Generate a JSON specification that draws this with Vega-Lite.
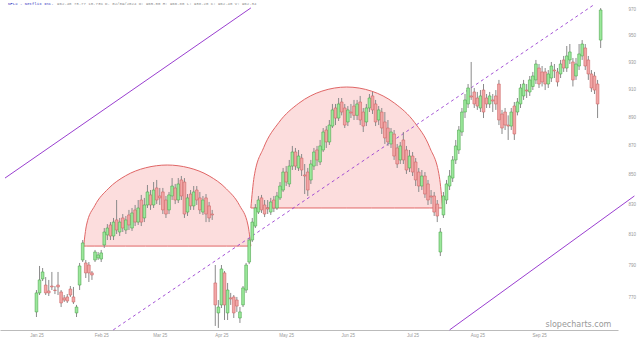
{
  "$schema": "https://vega.github.io/schema/vega-lite/v6.json",
  "width": 618,
  "height": 330,
  "autosize": {"type": "none"},
  "padding": {"left": 0, "top": 0, "right": 22, "bottom": 11},
  "background": "white",
  "config": {
    "view": {"stroke": null},
    "font": "Liberation Sans",
    "axisX": {"labelFontSize": 4.5, "labelColor": "#999", "ticks": false, "grid": false, "domainColor": "#bbb", "labelPadding": 2, "title": null},
    "axisY": {"labelFontSize": 4.5, "labelColor": "#999", "ticks": false, "grid": false, "domain": false, "labelPadding": 10, "title": null}
  },
  "datasets": {
    "candles": [
      {"i":0,"o":761.4,"h":774.9,"l":758.3,"c":773.1},
      {"i":1,"o":773.1,"h":790.0,"l":771.8,"c":781.2},
      {"i":2,"o":781.8,"h":788.7,"l":780.5,"c":786.2},
      {"i":3,"o":778.0,"h":783.0,"l":771.8,"c":773.1},
      {"i":4,"o":774.3,"h":781.2,"l":771.2,"c":773.1},
      {"i":5,"o":777.4,"h":786.2,"l":774.9,"c":776.8},
      {"i":6,"o":774.9,"h":777.4,"l":772.4,"c":774.6},
      {"i":7,"o":778.0,"h":786.2,"l":771.8,"c":776.8},
      {"i":8,"o":773.7,"h":774.9,"l":764.4,"c":766.9},
      {"i":9,"o":770.0,"h":771.8,"l":767.5,"c":768.7},
      {"i":10,"o":770.6,"h":772.4,"l":766.9,"c":768.1},
      {"i":11,"o":775.5,"h":777.4,"l":770.6,"c":771.8},
      {"i":12,"o":770.6,"h":776.8,"l":766.3,"c":767.5},
      {"i":13,"o":760.8,"h":765.7,"l":758.3,"c":764.4},
      {"i":14,"o":778.0,"h":791.9,"l":774.9,"c":790.0},
      {"i":15,"o":793.8,"h":806.6,"l":792.5,"c":804.7},
      {"i":16,"o":791.9,"h":793.8,"l":782.4,"c":785.6},
      {"i":17,"o":790.6,"h":792.5,"l":779.9,"c":785.6},
      {"i":18,"o":785.6,"h":786.8,"l":781.2,"c":784.3},
      {"i":19,"o":793.8,"h":800.2,"l":792.5,"c":798.9},
      {"i":20,"o":795.1,"h":798.9,"l":793.8,"c":797.0},
      {"i":21,"o":794.4,"h":800.2,"l":792.5,"c":798.3},
      {"i":22,"o":803.4,"h":814.4,"l":801.5,"c":811.8},
      {"i":23,"o":809.9,"h":817.0,"l":806.6,"c":814.4},
      {"i":24,"o":816.4,"h":818.3,"l":806.6,"c":809.2},
      {"i":25,"o":809.2,"h":821.0,"l":806.6,"c":818.3},
      {"i":26,"o":819.7,"h":832.9,"l":810.5,"c":813.1},
      {"i":27,"o":811.8,"h":821.0,"l":809.2,"c":818.3},
      {"i":28,"o":821.0,"h":823.6,"l":811.8,"c":814.4},
      {"i":29,"o":813.1,"h":822.3,"l":810.5,"c":819.7},
      {"i":30,"o":823.0,"h":826.3,"l":813.1,"c":816.4},
      {"i":31,"o":814.4,"h":827.6,"l":812.5,"c":824.3},
      {"i":32,"o":826.3,"h":829.6,"l":815.7,"c":818.3},
      {"i":33,"o":818.3,"h":832.9,"l":816.4,"c":827.6},
      {"i":34,"o":832.9,"h":836.3,"l":815.7,"c":818.3},
      {"i":35,"o":821.0,"h":834.3,"l":818.3,"c":829.6},
      {"i":36,"o":829.6,"h":843.0,"l":827.6,"c":838.3},
      {"i":37,"o":836.3,"h":839.6,"l":826.3,"c":829.6},
      {"i":38,"o":829.6,"h":845.0,"l":827.6,"c":839.6},
      {"i":39,"o":841.0,"h":846.4,"l":830.2,"c":832.9},
      {"i":40,"o":835.6,"h":841.0,"l":829.6,"c":834.3},
      {"i":41,"o":838.3,"h":841.0,"l":823.6,"c":826.3},
      {"i":42,"o":832.9,"h":835.6,"l":821.0,"c":823.6},
      {"i":43,"o":826.3,"h":838.3,"l":823.6,"c":836.3},
      {"i":44,"o":835.6,"h":847.7,"l":832.9,"c":842.3},
      {"i":45,"o":841.0,"h":843.7,"l":830.2,"c":832.9},
      {"i":46,"o":832.9,"h":847.7,"l":830.9,"c":843.7},
      {"i":47,"o":846.4,"h":849.1,"l":832.9,"c":835.6},
      {"i":48,"o":845.0,"h":847.7,"l":821.0,"c":823.6},
      {"i":49,"o":824.9,"h":836.9,"l":822.3,"c":834.3},
      {"i":50,"o":836.9,"h":839.6,"l":826.3,"c":829.0},
      {"i":51,"o":829.0,"h":842.3,"l":826.3,"c":838.3},
      {"i":52,"o":839.6,"h":842.3,"l":829.6,"c":832.9},
      {"i":53,"o":834.3,"h":838.3,"l":823.6,"c":826.3},
      {"i":54,"o":824.9,"h":835.6,"l":823.0,"c":832.9},
      {"i":55,"o":834.3,"h":836.9,"l":818.3,"c":823.6},
      {"i":56,"o":829.0,"h":831.6,"l":818.3,"c":821.0},
      {"i":57,"o":823.6,"h":826.3,"l":819.7,"c":823.0},
      {"i":58,"o":779.3,"h":790.6,"l":752.9,"c":765.7},
      {"i":59,"o":760.8,"h":768.7,"l":751.7,"c":764.4},
      {"i":60,"o":765.7,"h":790.6,"l":763.8,"c":788.1},
      {"i":61,"o":785.6,"h":786.8,"l":756.5,"c":765.7},
      {"i":62,"o":760.8,"h":779.3,"l":756.5,"c":774.9},
      {"i":63,"o":770.0,"h":773.1,"l":765.7,"c":769.4},
      {"i":64,"o":770.6,"h":771.8,"l":757.7,"c":760.8},
      {"i":65,"o":768.7,"h":770.6,"l":761.4,"c":765.0},
      {"i":66,"o":757.7,"h":764.4,"l":754.7,"c":761.4},
      {"i":67,"o":765.7,"h":777.4,"l":764.4,"c":776.2},
      {"i":68,"o":774.9,"h":791.9,"l":773.1,"c":790.6},
      {"i":69,"o":792.5,"h":807.9,"l":791.2,"c":806.6},
      {"i":70,"o":806.6,"h":821.0,"l":805.3,"c":818.3},
      {"i":71,"o":815.7,"h":830.2,"l":814.4,"c":827.6},
      {"i":72,"o":824.9,"h":835.6,"l":823.6,"c":832.9},
      {"i":73,"o":834.3,"h":836.3,"l":824.3,"c":826.3},
      {"i":74,"o":829.6,"h":832.9,"l":821.6,"c":823.6},
      {"i":75,"o":827.6,"h":832.9,"l":823.6,"c":826.9},
      {"i":76,"o":824.9,"h":834.3,"l":823.0,"c":831.6},
      {"i":77,"o":832.9,"h":835.6,"l":824.9,"c":827.6},
      {"i":78,"o":827.6,"h":838.3,"l":826.3,"c":835.6},
      {"i":79,"o":834.3,"h":845.0,"l":832.9,"c":842.3},
      {"i":80,"o":839.6,"h":854.6,"l":838.3,"c":851.8},
      {"i":81,"o":851.8,"h":855.9,"l":842.3,"c":845.0},
      {"i":82,"o":843.7,"h":860.1,"l":841.6,"c":855.9},
      {"i":83,"o":855.9,"h":869.8,"l":853.2,"c":865.6},
      {"i":84,"o":865.6,"h":868.4,"l":853.2,"c":855.9},
      {"i":85,"o":854.6,"h":867.0,"l":852.5,"c":862.8},
      {"i":86,"o":861.4,"h":864.2,"l":849.1,"c":853.2},
      {"i":87,"o":849.8,"h":857.3,"l":836.9,"c":849.1},
      {"i":88,"o":851.8,"h":854.6,"l":835.6,"c":839.6},
      {"i":89,"o":846.4,"h":860.1,"l":843.7,"c":857.3},
      {"i":90,"o":855.9,"h":868.4,"l":853.2,"c":865.6},
      {"i":91,"o":867.0,"h":869.8,"l":855.9,"c":860.1},
      {"i":92,"o":858.7,"h":874.0,"l":856.6,"c":869.8},
      {"i":93,"o":867.0,"h":882.4,"l":865.6,"c":879.6},
      {"i":94,"o":881.0,"h":883.8,"l":868.4,"c":872.6},
      {"i":95,"o":872.6,"h":888.1,"l":870.5,"c":884.5},
      {"i":96,"o":883.8,"h":899.6,"l":882.4,"c":895.3},
      {"i":97,"o":896.7,"h":899.6,"l":884.5,"c":889.5},
      {"i":98,"o":889.5,"h":903.9,"l":887.4,"c":899.6},
      {"i":99,"o":901.0,"h":903.9,"l":891.4,"c":893.8},
      {"i":100,"o":896.7,"h":899.6,"l":882.4,"c":884.5},
      {"i":101,"o":886.7,"h":898.1,"l":883.8,"c":895.3},
      {"i":102,"o":893.8,"h":899.6,"l":889.5,"c":893.1},
      {"i":103,"o":898.1,"h":902.5,"l":888.1,"c":891.4},
      {"i":104,"o":891.4,"h":902.5,"l":888.1,"c":899.6},
      {"i":105,"o":901.0,"h":905.4,"l":884.5,"c":888.1},
      {"i":106,"o":893.8,"h":896.7,"l":879.6,"c":883.8},
      {"i":107,"o":886.7,"h":899.6,"l":883.8,"c":896.7},
      {"i":108,"o":896.7,"h":906.8,"l":893.8,"c":903.9},
      {"i":109,"o":905.4,"h":908.3,"l":892.4,"c":895.3},
      {"i":110,"o":899.6,"h":902.5,"l":883.8,"c":886.7},
      {"i":111,"o":888.1,"h":898.1,"l":884.5,"c":895.3},
      {"i":112,"o":893.8,"h":896.7,"l":878.2,"c":882.4},
      {"i":113,"o":886.7,"h":893.8,"l":871.2,"c":875.4},
      {"i":114,"o":882.4,"h":888.1,"l":869.8,"c":872.6},
      {"i":115,"o":871.2,"h":882.4,"l":868.4,"c":879.6},
      {"i":116,"o":878.2,"h":881.0,"l":860.1,"c":862.8},
      {"i":117,"o":868.4,"h":871.2,"l":854.6,"c":857.3},
      {"i":118,"o":860.1,"h":872.6,"l":857.3,"c":869.8},
      {"i":119,"o":874.0,"h":879.6,"l":857.3,"c":860.1},
      {"i":120,"o":867.0,"h":869.8,"l":850.5,"c":853.2},
      {"i":121,"o":854.6,"h":867.0,"l":851.8,"c":862.8},
      {"i":122,"o":862.8,"h":865.6,"l":849.1,"c":851.8},
      {"i":123,"o":858.7,"h":861.4,"l":842.3,"c":846.4},
      {"i":124,"o":851.8,"h":854.6,"l":838.3,"c":842.3},
      {"i":125,"o":842.3,"h":853.2,"l":839.6,"c":849.1},
      {"i":126,"o":849.1,"h":851.8,"l":834.3,"c":836.9},
      {"i":127,"o":843.7,"h":846.4,"l":829.6,"c":832.9},
      {"i":128,"o":835.6,"h":839.6,"l":830.2,"c":834.9},
      {"i":129,"o":835.6,"h":838.3,"l":822.3,"c":824.9},
      {"i":130,"o":830.2,"h":832.9,"l":818.3,"c":822.3},
      {"i":131,"o":798.9,"h":814.4,"l":796.3,"c":811.8},
      {"i":132,"o":823.0,"h":838.3,"l":821.0,"c":835.6},
      {"i":133,"o":832.9,"h":846.4,"l":830.2,"c":843.7},
      {"i":134,"o":842.3,"h":853.2,"l":839.6,"c":849.1},
      {"i":135,"o":847.7,"h":862.8,"l":845.0,"c":860.1},
      {"i":136,"o":860.1,"h":874.0,"l":857.3,"c":869.8},
      {"i":137,"o":867.0,"h":883.8,"l":864.2,"c":881.0},
      {"i":138,"o":879.6,"h":896.7,"l":876.8,"c":893.8},
      {"i":139,"o":893.8,"h":906.8,"l":889.5,"c":902.5},
      {"i":140,"o":899.6,"h":914.1,"l":896.7,"c":911.2},
      {"i":141,"o":905.4,"h":930.4,"l":902.5,"c":904.6},
      {"i":142,"o":908.3,"h":911.2,"l":896.7,"c":899.6},
      {"i":143,"o":903.9,"h":908.3,"l":895.3,"c":898.1},
      {"i":144,"o":896.7,"h":909.7,"l":893.8,"c":905.4},
      {"i":145,"o":909.7,"h":914.1,"l":889.5,"c":893.8},
      {"i":146,"o":903.9,"h":906.8,"l":896.7,"c":899.6},
      {"i":147,"o":899.6,"h":908.3,"l":896.7,"c":905.4},
      {"i":148,"o":902.5,"h":906.8,"l":893.8,"c":901.7},
      {"i":149,"o":905.4,"h":909.7,"l":895.3,"c":899.6},
      {"i":150,"o":914.1,"h":917.1,"l":884.5,"c":888.1},
      {"i":151,"o":892.4,"h":895.3,"l":878.2,"c":882.4},
      {"i":152,"o":893.8,"h":896.7,"l":881.0,"c":884.5},
      {"i":153,"o":884.5,"h":891.4,"l":874.0,"c":883.8},
      {"i":154,"o":883.8,"h":896.7,"l":881.0,"c":893.8},
      {"i":155,"o":898.1,"h":901.0,"l":874.0,"c":878.2},
      {"i":156,"o":893.8,"h":903.9,"l":891.4,"c":901.0},
      {"i":157,"o":899.6,"h":914.1,"l":896.7,"c":911.2},
      {"i":158,"o":905.4,"h":917.1,"l":902.5,"c":914.1},
      {"i":159,"o":909.7,"h":914.1,"l":903.9,"c":909.0},
      {"i":160,"o":908.3,"h":920.0,"l":905.4,"c":917.1},
      {"i":161,"o":912.3,"h":923.0,"l":909.7,"c":920.0},
      {"i":162,"o":917.1,"h":931.9,"l":914.1,"c":928.9},
      {"i":163,"o":925.9,"h":928.9,"l":911.2,"c":914.1},
      {"i":164,"o":923.0,"h":927.4,"l":912.3,"c":915.6},
      {"i":165,"o":923.0,"h":925.9,"l":909.7,"c":914.1},
      {"i":166,"o":914.1,"h":924.4,"l":911.2,"c":921.5},
      {"i":167,"o":918.5,"h":930.4,"l":915.6,"c":927.4},
      {"i":168,"o":924.4,"h":928.9,"l":918.5,"c":923.7},
      {"i":169,"o":923.0,"h":925.9,"l":912.3,"c":915.6},
      {"i":170,"o":921.5,"h":931.9,"l":918.5,"c":928.9},
      {"i":171,"o":931.9,"h":934.9,"l":923.0,"c":925.9},
      {"i":172,"o":925.9,"h":942.4,"l":923.0,"c":934.9},
      {"i":173,"o":931.9,"h":943.9,"l":928.9,"c":937.9},
      {"i":174,"o":930.4,"h":933.4,"l":912.3,"c":917.1},
      {"i":175,"o":920.0,"h":933.4,"l":917.1,"c":928.9},
      {"i":176,"o":927.4,"h":943.9,"l":924.4,"c":936.4},
      {"i":177,"o":934.9,"h":946.9,"l":931.9,"c":943.9},
      {"i":178,"o":940.9,"h":943.9,"l":924.4,"c":927.4},
      {"i":179,"o":931.9,"h":934.9,"l":917.1,"c":921.5},
      {"i":180,"o":921.5,"h":924.4,"l":908.3,"c":911.2},
      {"i":181,"o":920.0,"h":923.0,"l":906.8,"c":909.7},
      {"i":182,"o":914.1,"h":917.1,"l":889.5,"c":899.6},
      {"i":183,"o":946.9,"h":971.5,"l":940.9,"c":970.0}
    ],
    "domes": [
      {"dome":"A","i":15.31,"p":802.7,"base":802.7},
      {"dome":"A","i":16.23,"p":816.3,"base":802.7},
      {"dome":"A","i":18.94,"p":829.2,"base":802.7},
      {"dome":"A","i":23.25,"p":840.4,"base":802.7},
      {"dome":"A","i":28.86,"p":849.2,"base":802.7},
      {"dome":"A","i":35.40,"p":854.7,"base":802.7},
      {"dome":"A","i":42.42,"p":856.6,"base":802.7},
      {"dome":"A","i":49.44,"p":854.7,"base":802.7},
      {"dome":"A","i":55.98,"p":849.2,"base":802.7},
      {"dome":"A","i":61.59,"p":840.4,"base":802.7},
      {"dome":"A","i":65.90,"p":829.2,"base":802.7},
      {"dome":"A","i":68.61,"p":816.3,"base":802.7},
      {"dome":"A","i":69.53,"p":802.7,"base":802.7},
      {"dome":"B","i":69.54,"p":827.6,"base":827.6},
      {"dome":"B","i":70.60,"p":848.6,"base":827.6},
      {"dome":"B","i":73.71,"p":868.7,"base":827.6},
      {"dome":"B","i":78.65,"p":886.4,"base":827.6},
      {"dome":"B","i":85.09,"p":900.1,"base":827.6},
      {"dome":"B","i":92.59,"p":908.9,"base":827.6},
      {"dome":"B","i":100.64,"p":911.9,"base":827.6},
      {"dome":"B","i":108.69,"p":908.9,"base":827.6},
      {"dome":"B","i":116.19,"p":900.1,"base":827.6},
      {"dome":"B","i":122.63,"p":886.4,"base":827.6},
      {"dome":"B","i":127.57,"p":868.7,"base":827.6},
      {"dome":"B","i":130.68,"p":848.6,"base":827.6},
      {"dome":"B","i":131.74,"p":827.6,"base":827.6}
    ],
    "solid": [
      {"line":"upper","i":-10.2,"p":847.7},
      {"line":"upper","i":69.54,"p":971.6},
      {"line":"lower","i":134.0,"p":750.5},
      {"line":"lower","i":193.94,"p":835.6}
    ],
    "dashed": [
      {"line":"mid","i":24.9,"p":750.5},
      {"line":"mid","i":181.18,"p":974.7}
    ],
    "notes": [
      {"label":"NFLX - Netflix Inc.","i":-9.25,"p":974.5,"kind":"name"},
      {"label":"962.40 73.77 10.73% D. 02/09/2024 O: 965.00 H: 966.80 L: 938.20 C: 962.40 V: 962.34","i":6.7,"p":974.5,"kind":"quote"}
    ],
    "mark": [
      {"label":"slopecharts.com","i":175.8,"p":753.5}
    ]
  },
  "encoding": {
    "x": {
      "field": "i",
      "type": "quantitative",
      "scale": {"domain": [-10.2, 187.0], "nice": false, "zero": false},
      "axis": {
        "values": [0, 21, 40, 60, 81, 101, 122, 143, 163],
        "labelExpr": "['Jan 25','Feb 25','Mar 25','Apr 25','May 25','Jun 25','Jul 25','Aug 25','Sep 25'][indexof([0,21,40,60,81,101,122,143,163], datum.value)]"
      }
    }
  },
  "layer": [
    {
      "data": {"name": "domes"},
      "mark": {"type": "area", "interpolate": "monotone", "fill": "#f8b4b4", "fillOpacity": 0.45, "stroke": "#e06666", "strokeWidth": 1},
      "encoding": {
        "y": {"field": "p", "type": "quantitative", "stack": null, "scale": {"type": "log", "domain": [750.45, 977.81], "nice": false, "zero": false}, "axis": {"orient": "right", "values": [770, 790, 810, 830, 850, 870, 890, 910, 930, 950, 970]}},
        "y2": {"field": "base"},
        "detail": {"field": "dome"}
      }
    },
    {
      "data": {"name": "solid"},
      "mark": {"type": "line", "color": "#9a3fd0", "strokeWidth": 1},
      "encoding": {
        "y": {"field": "p", "type": "quantitative", "scale": {"type": "log", "domain": [750.45, 977.81], "nice": false, "zero": false}, "axis": {"orient": "right", "values": [770, 790, 810, 830, 850, 870, 890, 910, 930, 950, 970]}},
        "detail": {"field": "line"}
      }
    },
    {
      "data": {"name": "dashed"},
      "mark": {"type": "line", "color": "#9a3fd0", "strokeWidth": 0.9, "strokeDash": [3, 3]},
      "encoding": {
        "y": {"field": "p", "type": "quantitative", "scale": {"type": "log", "domain": [750.45, 977.81], "nice": false, "zero": false}, "axis": {"orient": "right", "values": [770, 790, 810, 830, 850, 870, 890, 910, 930, 950, 970]}},
        "detail": {"field": "line"}
      }
    },
    {
      "data": {"name": "candles"},
      "mark": {"type": "rule", "color": "#8a8a8a", "strokeWidth": 1},
      "encoding": {
        "y": {"field": "l", "type": "quantitative", "scale": {"type": "log", "domain": [750.45, 977.81], "nice": false, "zero": false}, "axis": {"orient": "right", "values": [770, 790, 810, 830, 850, 870, 890, 910, 930, 950, 970]}},
        "y2": {"field": "h"}
      }
    },
    {
      "data": {"name": "candles"},
      "mark": {"type": "bar", "width": 2.7, "strokeWidth": 0.6},
      "encoding": {
        "y": {"field": "o", "type": "quantitative", "scale": {"type": "log", "domain": [750.45, 977.81], "nice": false, "zero": false}, "axis": {"orient": "right", "values": [770, 790, 810, 830, 850, 870, 890, 910, 930, 950, 970]}},
        "y2": {"field": "c"},
        "fill": {"condition": {"test": "datum.c >= datum.o", "value": "#9be89b"}, "value": "#f2a6a6"},
        "stroke": {"condition": {"test": "datum.c >= datum.o", "value": "#4fa84f"}, "value": "#cc6666"}
      }
    },
    {
      "data": {"name": "notes"},
      "mark": {"type": "text", "font": "Liberation Mono", "fontSize": 4, "baseline": "middle", "align": "left"},
      "encoding": {
        "y": {"field": "p", "type": "quantitative", "scale": {"type": "log", "domain": [750.45, 977.81], "nice": false, "zero": false}, "axis": {"orient": "right", "values": [770, 790, 810, 830, 850, 870, 890, 910, 930, 950, 970]}},
        "text": {"field": "label"},
        "color": {"condition": {"test": "datum.kind == 'name'", "value": "#3030c0"}, "value": "#888888"},
        "fontWeight": {"condition": {"test": "datum.kind == 'name'", "value": "bold"}, "value": "normal"}
      }
    },
    {
      "data": {"name": "mark"},
      "mark": {"type": "text", "font": "DejaVu Sans", "fontSize": 8, "color": "#999", "baseline": "middle", "align": "center"},
      "encoding": {
        "y": {"field": "p", "type": "quantitative", "scale": {"type": "log", "domain": [750.45, 977.81], "nice": false, "zero": false}, "axis": {"orient": "right", "values": [770, 790, 810, 830, 850, 870, 890, 910, 930, 950, 970]}},
        "text": {"field": "label"}
      }
    }
  ]
}
